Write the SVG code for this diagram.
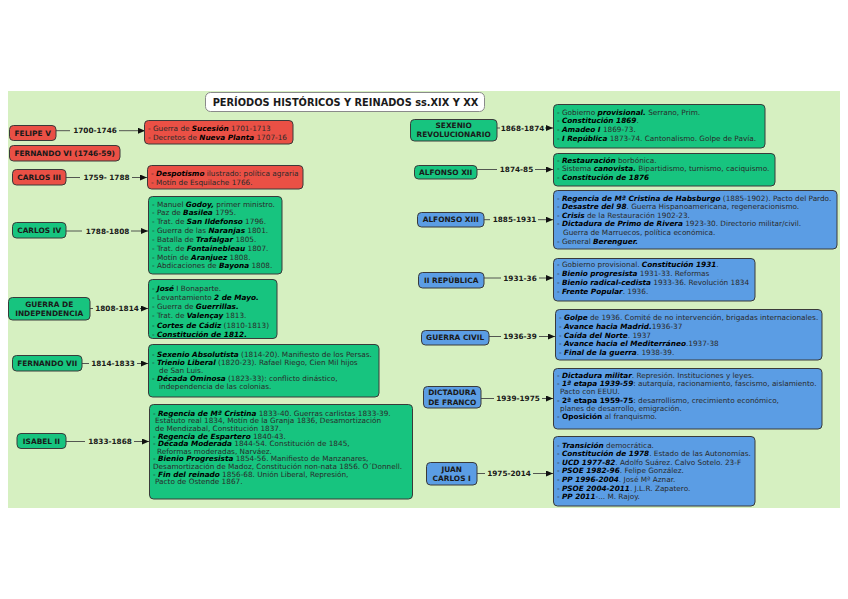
<svg xmlns="http://www.w3.org/2000/svg" width="848" height="599" viewBox="0 0 848 599">
<defs>
<marker id="ah" markerUnits="userSpaceOnUse" markerWidth="8" markerHeight="6" refX="7" refY="3" orient="auto">
<path d="M0,0 L7,3 L0,6 Z" fill="#111"/>
</marker>
<style>
text{font-family:"DejaVu Sans","Verdana",sans-serif;fill:#1a1a1a}
.node rect{stroke:#3a3a3a;stroke-width:1}
.red rect{fill:#ea5045}
.grn rect{fill:#17c47f}
.blu rect{fill:#5b9de4}
.nm{font-size:7.4px;font-weight:bold;text-anchor:middle}
.dt{font-size:7.3px;fill:#2a2a2a}
.lb{font-size:7.3px;font-weight:bold;text-anchor:middle}
.bi{font-weight:bold;font-style:italic;fill:#000}
.bo{font-weight:bold;fill:#000}
.con path{fill:none;stroke:#444;stroke-width:0.9;marker-end:url(#ah)}
</style>
</defs>
<rect x="0" y="0" width="848" height="599" fill="#fff"/>
<rect x="8" y="91" width="832" height="417" fill="#d6f0c1"/>

<g id="title">
<rect x="205.5" y="92.5" width="279" height="19" rx="5" fill="#fff" stroke="#8a8a8a"/>
<text x="345.5" y="105.6" font-size="9.8" font-weight="bold" text-anchor="middle">PERÍODOS HISTÓRICOS Y REINADOS ss.XIX Y XX</text>
</g>

<g class="con">
<path d="M56,130.7 H70 M119,130.7 H145"/>
<path d="M66,177.5 H80 M132,177.5 H147"/>
<path d="M66,231 H82 M131,231 H148"/>
<path d="M90,308.5 H93 M140,308.5 H148"/>
<path d="M82,363.5 H89 M137,363.5 H148"/>
<path d="M66,441.5 H85 M134,441.5 H149"/>
<path d="M497,128 H500 M545,128 H553"/>
<path d="M477,169.5 H497 M535,169.5 H553"/>
<path d="M484,219.7 H490 M538,219.7 H553"/>
<path d="M484,278 H501 M539,278 H553"/>
<path d="M489,336.5 H501 M539,336.5 H555"/>
<path d="M481,398.5 H494 M542,398.5 H553"/>
<path d="M477,473.5 H485 M533,473.5 H553"/>
</g>
<g id="labels">
<text class="lb" x="95" y="133.2">1700-1746</text>
<text class="lb" x="106.5" y="180">1759- 1788</text>
<text class="lb" x="107.5" y="233.5">1788-1808</text>
<text class="lb" x="117" y="311">1808-1814</text>
<text class="lb" x="113" y="366">1814-1833</text>
<text class="lb" x="110" y="444">1833-1868</text>
<text class="lb" x="522.5" y="130.5">1868-1874</text>
<text class="lb" x="516.5" y="172">1874-85</text>
<text class="lb" x="514.5" y="222.2">1885-1931</text>
<text class="lb" x="520" y="280.5">1931-36</text>
<text class="lb" x="520" y="339">1936-39</text>
<text class="lb" x="518" y="401">1939-1975</text>
<text class="lb" x="509" y="476">1975-2014</text>
</g>

<!-- Left nodes -->
<g id="felipe5" class="node red">
<rect x="9.5" y="125.5" width="46.5" height="15" rx="4"/>
<text class="nm" x="32.7" y="135.6">FELIPE V</text>
</g>
<g id="felipe5-det" class="node red">
<rect x="144.5" y="120.5" width="148.5" height="23.5" rx="4"/>
<text class="dt" x="148" y="130.5">- Guerra de <tspan class="bi">Sucesión</tspan> 1701-1713</text>
<text class="dt" x="148" y="140">- Decretos de <tspan class="bi">Nueva Planta</tspan> 1707-16</text>
</g>
<g id="fernando6" class="node red">
<rect x="9.5" y="145.5" width="110.5" height="15.5" rx="4"/>
<text class="nm" x="64.7" y="155.8">FERNANDO VI (1746-59)</text>
</g>
<g id="carlos3" class="node red">
<rect x="12.5" y="169.5" width="53.5" height="15.5" rx="4"/>
<text class="nm" x="39.2" y="179.8">CARLOS III</text>
</g>
<g id="carlos3-det" class="node red">
<rect x="147.5" y="165.5" width="155.5" height="23.5" rx="4"/>
<text class="dt" x="151" y="175.5">- <tspan class="bi">Despotismo</tspan> ilustrado: política agraria</text>
<text class="dt" x="151" y="185">- Motín de Esquilache 1766.</text>
</g>
<g id="carlos4" class="node grn">
<rect x="12.5" y="222.5" width="53.5" height="15.5" rx="4"/>
<text class="nm" x="39.2" y="232.8">CARLOS IV</text>
</g>
<g id="carlos4-det" class="node grn">
<rect x="148.5" y="196.5" width="133.5" height="77.5" rx="4"/>
<text class="dt" x="152" y="206.5">- Manuel <tspan class="bi">Godoy,</tspan> primer ministro.</text>
<text class="dt" x="152" y="215.3">- Paz de <tspan class="bi">Basilea</tspan> 1795.</text>
<text class="dt" x="152" y="224.2">- Trat. de <tspan class="bi">San Ildefonso</tspan> 1796.</text>
<text class="dt" x="152" y="233">- Guerra de las <tspan class="bi">Naranjas</tspan> 1801.</text>
<text class="dt" x="152" y="241.9">- Batalla de <tspan class="bi">Trafalgar</tspan> 1805.</text>
<text class="dt" x="152" y="250.7">- Trat. de <tspan class="bi">Fontainebleau</tspan> 1807.</text>
<text class="dt" x="152" y="259.6">- Motín de <tspan class="bi">Aranjuez</tspan>  1808.</text>
<text class="dt" x="152" y="268.4">- Abdicaciones de <tspan class="bi">Bayona</tspan> 1808.</text>
</g>
<g id="guerraindep" class="node grn">
<rect x="8.5" y="297.5" width="81.5" height="22.5" rx="4"/>
<text class="nm" x="49.2" y="306.6">GUERRA DE</text>
<text class="nm" x="49.2" y="315.6">INDEPENDENCIA</text>
</g>
<g id="guerraindep-det" class="node grn">
<rect x="148.5" y="279.5" width="128.5" height="59" rx="4"/>
<text class="dt" x="152" y="290.8">- <tspan class="bi">José</tspan> I Bonaparte.</text>
<text class="dt" x="152" y="300">- Levantamiento <tspan class="bi">2 de Mayo.</tspan></text>
<text class="dt" x="152" y="309.2">- Guerra de <tspan class="bi">Guerrillas.</tspan></text>
<text class="dt" x="152" y="318.4">- Trat. de <tspan class="bi">Valençay</tspan> 1813.</text>
<text class="dt" x="152" y="327.6">- <tspan class="bi">Cortes de Cádiz</tspan> (1810-1813)</text>
<text class="dt" x="152" y="336.6">- <tspan class="bi">Constitución de 1812.</tspan></text>
</g>
<g id="fernando7" class="node grn">
<rect x="12.5" y="355.5" width="69.5" height="15.5" rx="4"/>
<text class="nm" x="47.2" y="365.8">FERNANDO VII</text>
</g>
<g id="fernando7-det" class="node grn">
<rect x="148.5" y="344.5" width="230.5" height="52.5" rx="4"/>
<text class="dt" x="152" y="356.5">- <tspan class="bi">Sexenio Absolutista</tspan> (1814-20). Manifiesto de los Persas.</text>
<text class="dt" x="152" y="364.7">- <tspan class="bi">Trienio Liberal</tspan> (1820-23). Rafael Riego, Cien Mil hijos</text>
<text class="dt" x="159" y="372.9">de San Luis.</text>
<text class="dt" x="152" y="381.1">- <tspan class="bi">Década Ominosa</tspan> (1823-33): conflicto dinástico,</text>
<text class="dt" x="159" y="389.3">independencia de las colonias.</text>
</g>
<g id="isabel2" class="node grn">
<rect x="17" y="433.5" width="49" height="15" rx="4"/>
<text class="nm" x="41.5" y="443.6">ISABEL II</text>
</g>
<g id="isabel2-det" class="node grn">
<rect x="149.5" y="404.5" width="263" height="94.5" rx="4"/>
<text class="dt" x="153" y="415.8">- <tspan class="bi">Regencia de Mª Cristina</tspan> 1833-40. Guerras carlistas 1833-39.</text>
<text class="dt" x="155" y="423.4">Estatuto real 1834, Motín de la Granja 1836, Desamortización</text>
<text class="dt" x="155" y="431">de Mendizabal,  Constitución 1837.</text>
<text class="dt" x="153" y="438.6">- <tspan class="bi">Regencia de Espartero</tspan> 1840-43.</text>
<text class="dt" x="153" y="446.2">- <tspan class="bi">Década Moderada</tspan> 1844-54. Constitución de 1845,</text>
<text class="dt" x="157" y="453.8">Reformas moderadas, Narváez.</text>
<text class="dt" x="153" y="461.4">- <tspan class="bi">Bienio Progresista</tspan> 1854-56. Manifiesto de Manzanares,</text>
<text class="dt" x="153" y="469">Desamortización de Madoz, Constitución non-nata 1856. O´Donnell.</text>
<text class="dt" x="153" y="476.6">- <tspan class="bi">Fin del reinado</tspan> 1856-68. Unión Liberal, Represión,</text>
<text class="dt" x="155" y="484.2">Pacto de Ostende 1867.</text>
</g>

<!-- Right nodes -->
<g id="sexenio" class="node grn">
<rect x="410.5" y="119.5" width="86.5" height="21.5" rx="4"/>
<text class="nm" x="453.7" y="127.8">SEXENIO</text>
<text class="nm" x="453.7" y="137.4">REVOLUCIONARIO</text>
</g>
<g id="sexenio-det" class="node grn">
<rect x="553.5" y="104.5" width="211.5" height="43.5" rx="4"/>
<text class="dt" x="557" y="114.6">- Gobierno <tspan class="bi">provisional.</tspan> Serrano, Prim.</text>
<text class="dt" x="557" y="123.4">- <tspan class="bi">Constitución 1869</tspan>.</text>
<text class="dt" x="557" y="132.2">- <tspan class="bi">Amadeo I</tspan> 1869-73.</text>
<text class="dt" x="557" y="141">- <tspan class="bi">I República</tspan> 1873-74. Cantonalismo. Golpe de Pavía.</text>
</g>
<g id="alfonso12" class="node grn">
<rect x="414.5" y="165.5" width="62.5" height="13.5" rx="4"/>
<text class="nm" x="445.7" y="174.9">ALFONSO XII</text>
</g>
<g id="alfonso12-det" class="node grn">
<rect x="553.5" y="153.5" width="221.5" height="32.5" rx="4"/>
<text class="dt" x="557" y="162.6">- <tspan class="bi">Restauración</tspan> borbónica.</text>
<text class="dt" x="557" y="171.3">- Sistema <tspan class="bi">canovista.</tspan> Bipartidismo, turnismo, caciquismo.</text>
<text class="dt" x="557" y="180">- <tspan class="bi">Constitución de 1876</tspan></text>
</g>
<g id="alfonso13" class="node blu">
<rect x="417.5" y="212.5" width="66.5" height="14.5" rx="4"/>
<text class="nm" x="450.7" y="222.4">ALFONSO XIII</text>
</g>
<g id="alfonso13-det" class="node blu">
<rect x="553.5" y="190.5" width="283.5" height="58.5" rx="4"/>
<text class="dt" x="557" y="200.6">- <tspan class="bi">Regencia de Mª Cristina de Habsburgo</tspan> (1885-1902). Pacto del Pardo.</text>
<text class="dt" x="557" y="209.2">- <tspan class="bi">Desastre del 98</tspan>. Guerra Hispanoamericana, regeneracionismo.</text>
<text class="dt" x="557" y="217.8">- <tspan class="bi">Crisis</tspan> de la Restauración 1902-23.</text>
<text class="dt" x="557" y="226.4">- <tspan class="bi">Dictadura de Primo de Rivera</tspan> 1923-30. Directorio militar/civil.</text>
<text class="dt" x="563" y="235">Guerra de Marruecos, política económica.</text>
<text class="dt" x="557" y="243.6">- General <tspan class="bi">Berenguer.</tspan></text>
</g>
<g id="republica2" class="node blu">
<rect x="418.5" y="272.5" width="65.5" height="15.5" rx="4"/>
<text class="nm" x="451.2" y="282.8">II REPÚBLICA</text>
</g>
<g id="republica2-det" class="node blu">
<rect x="553.5" y="258.5" width="201.5" height="42.5" rx="4"/>
<text class="dt" x="557" y="267.2">- Gobierno provisional. <tspan class="bi">Constitución 1931</tspan>.</text>
<text class="dt" x="557" y="276">- <tspan class="bi">Bienio progresista</tspan> 1931-33. Reformas</text>
<text class="dt" x="557" y="284.8">- <tspan class="bi">Bienio radical-cedista</tspan> 1933-36. Revolución 1834</text>
<text class="dt" x="557" y="293.6">- <tspan class="bi">Frente Popular</tspan>. 1936.</text>
</g>
<g id="guerracivil" class="node blu">
<rect x="421.5" y="330.5" width="67.5" height="14.5" rx="4"/>
<text class="nm" x="455.2" y="340.4">GUERRA CIVIL</text>
</g>
<g id="guerracivil-det" class="node blu">
<rect x="555.5" y="309.5" width="266.5" height="50.5" rx="4"/>
<text class="dt" x="559" y="320.2">- <tspan class="bi">Golpe</tspan> de 1936. Comité de no intervención, brigadas internacionales.</text>
<text class="dt" x="559" y="328.8">- <tspan class="bi">Avance hacia Madrid.</tspan>1936-37</text>
<text class="dt" x="559" y="337.5">- <tspan class="bi">Caída del Norte</tspan>. 1937</text>
<text class="dt" x="559" y="346.2">- <tspan class="bi">Avance hacia el Mediterráneo</tspan>.1937-38</text>
<text class="dt" x="559" y="354.8">- <tspan class="bi">Final de la guerra</tspan>. 1938-39.</text>
</g>
<g id="dictadura" class="node blu">
<rect x="423.5" y="386.5" width="57.5" height="21.5" rx="4"/>
<text class="nm" x="452.2" y="395.4">DICTADURA</text>
<text class="nm" x="452.2" y="404.6">DE FRANCO</text>
</g>
<g id="dictadura-det" class="node blu">
<rect x="553.5" y="368.5" width="268.5" height="60.5" rx="4"/>
<text class="dt" x="557" y="377.5">- <tspan class="bi">Dictadura militar</tspan>. Represión. Instituciones y leyes.</text>
<text class="dt" x="557" y="386">- <tspan class="bi">1ª etapa 1939-59</tspan>: autarquía, racionamiento, fascismo, aislamiento.</text>
<text class="dt" x="560" y="394.3">Pacto con EEUU.</text>
<text class="dt" x="557" y="402.6">- <tspan class="bo">2ª etapa 1959-75</tspan>: desarrollismo, crecimiento económico,</text>
<text class="dt" x="560" y="410.6">planes de desarrollo, emigración.</text>
<text class="dt" x="557" y="419">- <tspan class="bo">Oposición</tspan> al franquismo.</text>
</g>
<g id="juancarlos" class="node blu">
<rect x="426.5" y="462.5" width="50.5" height="22.5" rx="4"/>
<text class="nm" x="451.7" y="471.6">JUAN</text>
<text class="nm" x="451.7" y="480.6">CARLOS I</text>
</g>
<g id="juancarlos-det" class="node blu">
<rect x="553.5" y="436.5" width="201.5" height="69.5" rx="4"/>
<text class="dt" x="557" y="447.5">- <tspan class="bi">Transición</tspan> democrática.</text>
<text class="dt" x="557" y="456.1">- <tspan class="bi">Constitución de 1978</tspan>. Estado de las Autonomías.</text>
<text class="dt" x="557" y="464.7">- <tspan class="bi">UCD 1977-82</tspan>. Adolfo Suárez. Calvo Sotelo. 23-F</text>
<text class="dt" x="557" y="473.3">- <tspan class="bi">PSOE 1982-96</tspan>. Felipe González.</text>
<text class="dt" x="557" y="481.9">- <tspan class="bi">PP 1996-2004</tspan>. José Mª Aznar.</text>
<text class="dt" x="557" y="490.5">- <tspan class="bi">PSOE 2004-2011</tspan>. J.L.R. Zapatero.</text>
<text class="dt" x="557" y="499.1">- <tspan class="bi">PP 2011</tspan>-... M. Rajoy.</text>
</g>
</svg>
